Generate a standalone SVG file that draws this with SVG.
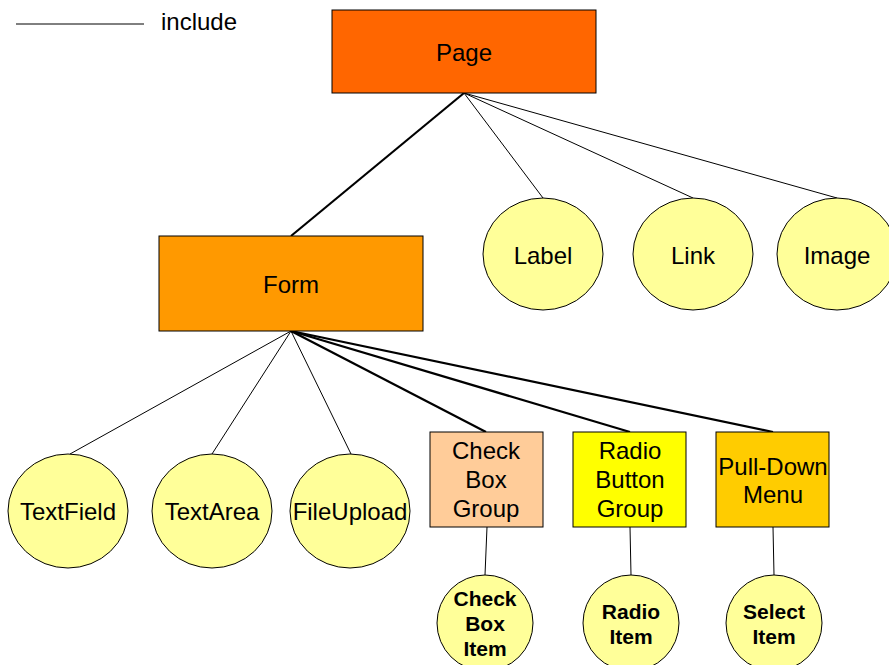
<svg xmlns="http://www.w3.org/2000/svg" width="889" height="665" viewBox="0 0 889 665">
  <style>
    text { font-family: "Liberation Sans", Arial, sans-serif; font-size: 24px; fill: #000; text-anchor: middle; }
    .bold { font-weight: bold; font-size: 21px; }
    .box { stroke: #000; stroke-width: 1; }
    .leaf { fill: #FFFF99; stroke: #000; stroke-width: 1; }
    .thin { stroke: #000; stroke-width: 1; fill: none; }
    .thick { stroke: #000; stroke-width: 2.2; fill: none; }
  </style>

  <!-- legend -->
  <g id="legend">
    <line x1="16" y1="24" x2="144" y2="24" class="thin"/>
    <text x="161" y="30" style="text-anchor:start">include</text>
  </g>

  <!-- connectors -->
  <g id="connectors">
    <line x1="464" y1="93" x2="291" y2="236" class="thick"/>
    <line x1="464" y1="93" x2="543" y2="198" class="thin"/>
    <line x1="464" y1="93" x2="693" y2="198" class="thin"/>
    <line x1="464" y1="93" x2="837" y2="198" class="thin"/>
    <line x1="291" y1="331" x2="70" y2="454" class="thin"/>
    <line x1="291" y1="331" x2="212" y2="454" class="thin"/>
    <line x1="291" y1="331" x2="351" y2="454" class="thin"/>
    <line x1="291" y1="331" x2="486" y2="432" class="thick"/>
    <line x1="291" y1="331" x2="630" y2="432" class="thick"/>
    <line x1="291" y1="331" x2="773" y2="432" class="thick"/>
    <line x1="487" y1="527" x2="485" y2="575" class="thin"/>
    <line x1="630" y1="527" x2="631" y2="575" class="thin"/>
    <line x1="773" y1="527" x2="774" y2="575" class="thin"/>
  </g>

  <g id="page">
    <rect x="332" y="10" width="264" height="83" fill="#FF6600" class="box"/>
    <text x="464" y="61">Page</text>
  </g>

  <g id="form">
    <rect x="159" y="236" width="264" height="95" fill="#FF9900" class="box"/>
    <text x="291" y="293">Form</text>
  </g>

  <g id="label">
    <ellipse cx="543" cy="254" rx="60" ry="56" class="leaf"/>
    <text x="543" y="264">Label</text>
  </g>
  <g id="link">
    <ellipse cx="693" cy="254" rx="60" ry="56" class="leaf"/>
    <text x="693" y="264">Link</text>
  </g>
  <g id="image">
    <ellipse cx="837" cy="254" rx="60" ry="56" class="leaf"/>
    <text x="837" y="264">Image</text>
  </g>

  <g id="textfield">
    <ellipse cx="68" cy="511" rx="60" ry="57" class="leaf"/>
    <text x="68" y="520">TextField</text>
  </g>
  <g id="textarea">
    <ellipse cx="212" cy="511" rx="60" ry="57" class="leaf"/>
    <text x="212" y="520">TextArea</text>
  </g>
  <g id="fileupload">
    <ellipse cx="350" cy="511" rx="60" ry="57" class="leaf"/>
    <text x="350" y="520">FileUpload</text>
  </g>

  <g id="checkboxgroup">
    <rect x="430" y="432" width="113" height="95" fill="#FFCC99" class="box"/>
    <text x="486" y="459">Check</text>
    <text x="486" y="488">Box</text>
    <text x="486" y="517">Group</text>
  </g>
  <g id="radiobuttongroup">
    <rect x="573" y="432" width="113" height="95" fill="#FFFF00" class="box"/>
    <text x="630" y="459">Radio</text>
    <text x="630" y="488">Button</text>
    <text x="630" y="517">Group</text>
  </g>
  <g id="pulldownmenu">
    <rect x="716" y="432" width="113" height="95" fill="#FFCC00" class="box"/>
    <text x="773" y="475">Pull-Down</text>
    <text x="773" y="503">Menu</text>
  </g>

  <g id="checkboxitem">
    <ellipse cx="485" cy="623" rx="48" ry="48" class="leaf"/>
    <text x="485" y="606" class="bold">Check</text>
    <text x="485" y="631" class="bold">Box</text>
    <text x="485" y="656" class="bold">Item</text>
  </g>
  <g id="radioitem">
    <ellipse cx="631" cy="623" rx="48" ry="48" class="leaf"/>
    <text x="631" y="619" class="bold">Radio</text>
    <text x="631" y="644" class="bold">Item</text>
  </g>
  <g id="selectitem">
    <ellipse cx="774" cy="623" rx="48" ry="48" class="leaf"/>
    <text x="774" y="619" class="bold">Select</text>
    <text x="774" y="644" class="bold">Item</text>
  </g>
</svg>
